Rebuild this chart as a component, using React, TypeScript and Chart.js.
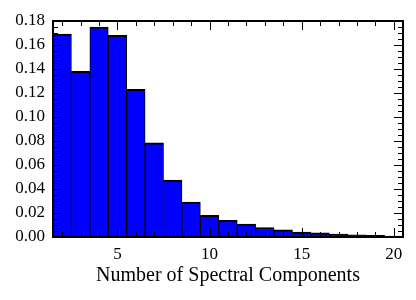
import React, { useEffect, useRef } from "react";
import { Chart, registerables } from "chart.js";

Chart.register(...registerables);

const binCenters = [2, 3, 4, 5, 6, 7, 8, 9, 10, 11, 12, 13, 14, 15, 16, 17, 18, 19, 20];
const frequencies = [
  0.169, 0.138, 0.175, 0.168, 0.123, 0.0785, 0.0475, 0.029, 0.018, 0.0138,
  0.0108, 0.0079, 0.0060, 0.0040, 0.0034, 0.0024, 0.0019, 0.0013, 0.0007,
];
const xMajorTicks = [5, 10, 15, 20];
const xMinorTicks = [2, 3, 4, 6, 7, 8, 9, 11, 12, 13, 14, 16, 17, 18, 19];
const yMajorTicks = [0, 0.02, 0.04, 0.06, 0.08, 0.1, 0.12, 0.14, 0.16, 0.18];
const yMinorStep = 0.005;
const xTitle = "Number of Spectral Components";

const FONT = "'Liberation Serif', 'Times New Roman', serif";

const frameTicksPlugin = {
  id: "frameTicks",
  afterDraw(chart: any) {
    const { ctx, chartArea } = chart;
    const xs = chart.scales.x;
    const ys = chart.scales.y;
    const { left, right, top, bottom } = chartArea;
    ctx.save();
    ctx.strokeStyle = "#000";
    ctx.lineWidth = 1;
    const major = 9;
    const minor = 5;
    const drawX = (v: number, len: number) => {
      const px = Math.round(xs.getPixelForValue(v)) + 0.5;
      ctx.beginPath();
      ctx.moveTo(px, bottom);
      ctx.lineTo(px, bottom - len);
      ctx.moveTo(px, top);
      ctx.lineTo(px, top + len);
      ctx.stroke();
    };
    const drawY = (v: number, len: number) => {
      const py = Math.round(ys.getPixelForValue(v)) + 0.5;
      ctx.beginPath();
      ctx.moveTo(left, py);
      ctx.lineTo(left + len, py);
      ctx.moveTo(right, py);
      ctx.lineTo(right - len, py);
      ctx.stroke();
    };
    xMajorTicks.forEach((v) => drawX(v, major));
    xMinorTicks.forEach((v) => drawX(v, minor));
    yMajorTicks.forEach((v) => drawY(v, major));
    const yMax = yMajorTicks[yMajorTicks.length - 1];
    for (let i = 1; i * yMinorStep < yMax - 1e-9; i++) {
      const v = i * yMinorStep;
      if (Math.abs(v / 0.02 - Math.round(v / 0.02)) > 1e-6) drawY(v, minor);
    }
    ctx.lineWidth = 2;
    ctx.strokeRect(left, top, right - left, bottom - top);
    ctx.restore();
  },
};

export default function App() {
  const ref = useRef<HTMLCanvasElement>(null);
  useEffect(() => {
    document.body.style.margin = "0";
    const chart = new Chart(ref.current as HTMLCanvasElement, {
      type: "bar",
      data: {
        datasets: [
          {
            data: binCenters.map((x, i) => ({ x, y: frequencies[i] })),
            backgroundColor: "#0000ff",
            borderColor: "#000000",
            borderWidth: { top: 2, left: 1, right: 1, bottom: 0 },
            borderSkipped: false,
            barPercentage: 1,
            categoryPercentage: 1,
          },
        ],
      },
      options: {
        animation: false,
        responsive: false,
        devicePixelRatio: 1,
        layout: { padding: { top: 21, right: 13, left: 0, bottom: 0 } },
        plugins: { legend: { display: false }, tooltip: { enabled: false } },
        scales: {
          x: {
            type: "linear",
            min: 1.5,
            max: 20.5,
            offset: false,
            grid: { display: false, drawTicks: false },
            border: { display: false },
            afterBuildTicks: (s: any) => {
              s.ticks = xMajorTicks.map((v) => ({ value: v }));
            },
            afterFit: (s: any) => {
              s.height = 63;
            },
            ticks: {
              padding: 7,
              color: "#000",
              font: { family: FONT, size: 17 },
              maxRotation: 0,
              callback: (v: any) => String(v),
            },
            title: {
              display: true,
              text: xTitle,
              color: "#000",
              font: { family: FONT, size: 20 },
              padding: { top: 0, bottom: 12 },
            },
          },
          y: {
            min: 0,
            max: 0.18,
            grid: { display: false, drawTicks: false },
            border: { display: false },
            afterBuildTicks: (s: any) => {
              s.ticks = yMajorTicks.map((v) => ({ value: v }));
            },
            afterFit: (s: any) => {
              s.width = 53;
            },
            ticks: {
              padding: 8,
              color: "#000",
              font: { family: FONT, size: 17 },
              callback: (v: any) => Number(v).toFixed(2),
            },
          },
        },
      },
      plugins: [frameTicksPlugin],
    } as any);
    return () => chart.destroy();
  }, []);
  return (
    <div style={{ width: 416, height: 300 }}>
      <canvas ref={ref} width={416} height={300} />
    </div>
  );
}
